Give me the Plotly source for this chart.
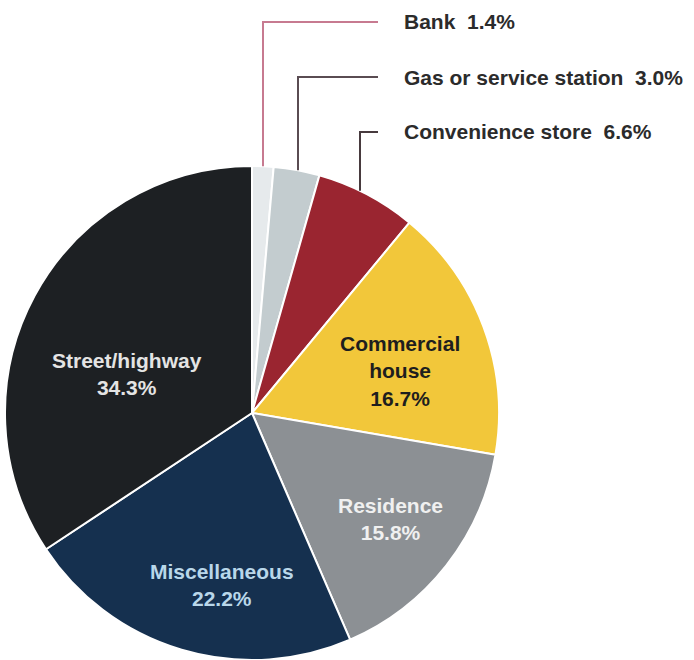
import plotly.graph_objects as go
import math

# Robbery locations, share of incidents (%)
categories = ["Bank", "Gas or service station", "Convenience store",
              "Commercial house", "Residence", "Miscellaneous", "Street/highway"]
shares = [1.4, 3.0, 6.6, 16.7, 15.8, 22.2, 34.3]
display_names = ["Bank", "Gas or service station", "Convenience store",
                 "Commercial<br>house", "Residence", "Miscellaneous", "Street/highway"]

slice_colors = ["#E6EAEC", "#C3CCCF", "#9A2530", "#F2C73A",
                "#8C9094", "#15304F", "#1D2023"]

W, H = 694, 660
CX, CY, R = 252, 413, 247  # pie centre and radius in pixels

def px(x):
    return x / W

def py(y):
    return 1 - y / H

fig = go.Figure(go.Pie(
    labels=categories,
    values=shares,
    sort=False,
    direction="clockwise",
    rotation=0,
    marker=dict(colors=slice_colors, line=dict(color="white", width=2)),
    textinfo="none",
    hoverinfo="label+percent",
    domain=dict(x=[px(CX - R), px(CX + R)], y=[py(CY + R), py(CY - R)]),
    showlegend=False,
))

FONT = "Liberation Sans, Arial, sans-serif"

# Labels drawn inside the large slices
inside = {
    3: dict(pos=(400, 371), color="#1E1E1E"),
    4: dict(pos=(390, 519), color="#F0F0F0"),
    5: dict(pos=(222, 585), color="#B9D7EA"),
    6: dict(pos=(127, 374), color="#E4E4E4"),
}
annotations = []
for i, spec in inside.items():
    x, y = spec["pos"]
    annotations.append(dict(
        x=px(x), y=py(y), xref="paper", yref="paper",
        xanchor="center", yanchor="middle", showarrow=False,
        text=f"<b>{display_names[i]}<br>{shares[i]:.1f}%</b>",
        font=dict(family=FONT, size=21, color=spec["color"]),
    ))

# Callout labels for the three small slices, with elbow leader lines
callout_rows = [22, 77, 132]
leader_x = [263, 298, 360]
leader_colors = ["#C77A90", "#5A4C52", "#473A3E"]
line_end_x = 378
text_x = 402
shapes = []
for i in range(3):
    lx = leader_x[i]
    edge_y = CY - math.sqrt(R ** 2 - (lx - CX) ** 2)
    ty = callout_rows[i]
    shapes.append(dict(
        type="path", xref="paper", yref="paper",
        path=f"M {px(lx)},{py(edge_y)} L {px(lx)},{py(ty)} L {px(line_end_x)},{py(ty)}",
        line=dict(color=leader_colors[i], width=2),
    ))
    annotations.append(dict(
        x=px(text_x), y=py(ty), xref="paper", yref="paper",
        xanchor="left", yanchor="middle", showarrow=False,
        text=f"<b>{categories[i]}  {shares[i]:.1f}%</b>",
        font=dict(family=FONT, size=21, color="#2B2B2B"),
    ))

fig.update_layout(
    width=W, height=H,
    margin=dict(l=0, r=0, t=0, b=0),
    paper_bgcolor="white",
    plot_bgcolor="white",
    annotations=annotations,
    shapes=shapes,
)

fig.write_html("out.html")
